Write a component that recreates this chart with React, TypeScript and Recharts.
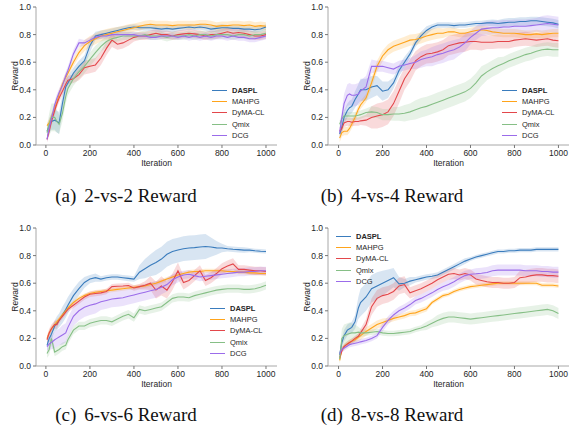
import { ComposedChart, Line, Area, XAxis, YAxis, Legend } from "recharts";

const FONT = "'Liberation Sans', Arial, sans-serif";
const INK = "#262626";
const FRAME = "#a8a8a8";

const iterations = [
  5, 15, 25, 40, 50, 60, 75, 90, 100, 125, 150, 175, 200, 225, 250, 275, 300,
  325, 350, 375, 400, 425, 450, 475, 500, 525, 550, 575, 600, 625, 650, 675,
  700, 725, 750, 775, 800, 825, 850, 875, 900, 925, 950, 975, 1000,
];
const seriesNames = ["DASPL", "MAHPG", "DyMA-CL", "Qmix", "DCG"];
const seriesColors = ["#3a7cbd", "#ffa41b", "#e3474b", "#86bf86", "#9b6cea"];
const xTicks = [0, 200, 400, 600, 800, 1000];
const yTicks = [0, 0.2, 0.4, 0.6, 0.8, 1.0];

// (a) 2-vs-2
const a_daspl = [0.1, 0.14, 0.17, 0.18, 0.17, 0.16, 0.3, 0.42, 0.45, 0.52, 0.57, 0.61, 0.72, 0.79, 0.8, 0.81, 0.82, 0.83, 0.84, 0.85, 0.855, 0.85, 0.85, 0.85, 0.845, 0.84, 0.845, 0.84, 0.845, 0.85, 0.855, 0.85, 0.855, 0.85, 0.84, 0.845, 0.85, 0.85, 0.845, 0.845, 0.84, 0.84, 0.835, 0.84, 0.855];
const a_dasplBand = [0.03, 0.05, 0.06, 0.07, 0.08, 0.08, 0.07, 0.06, 0.05, 0.04, 0.04, 0.04, 0.05, 0.03, 0.03, 0.025, 0.025, 0.025, 0.02, 0.02, 0.02, 0.02, 0.02, 0.025, 0.025, 0.025, 0.025, 0.025, 0.02, 0.02, 0.02, 0.02, 0.02, 0.02, 0.025, 0.025, 0.025, 0.02, 0.02, 0.02, 0.02, 0.02, 0.02, 0.02, 0.02];
const a_mahpg = [0.14, 0.16, 0.2, 0.27, 0.31, 0.37, 0.44, 0.49, 0.52, 0.6, 0.67, 0.72, 0.75, 0.77, 0.79, 0.8, 0.81, 0.82, 0.83, 0.84, 0.85, 0.86, 0.87, 0.875, 0.87, 0.87, 0.87, 0.865, 0.87, 0.87, 0.87, 0.87, 0.875, 0.875, 0.87, 0.86, 0.865, 0.865, 0.87, 0.87, 0.865, 0.87, 0.86, 0.865, 0.86];
const a_mahpgBand = [0.02, 0.03, 0.03, 0.03, 0.03, 0.03, 0.03, 0.03, 0.03, 0.03, 0.035, 0.04, 0.04, 0.04, 0.04, 0.04, 0.04, 0.035, 0.035, 0.035, 0.03, 0.03, 0.03, 0.03, 0.03, 0.03, 0.03, 0.03, 0.03, 0.03, 0.03, 0.03, 0.03, 0.03, 0.03, 0.03, 0.03, 0.03, 0.03, 0.03, 0.03, 0.03, 0.03, 0.03, 0.03];
const a_dyma = [0.04, 0.1, 0.17, 0.25, 0.3, 0.34, 0.39, 0.44, 0.47, 0.48, 0.51, 0.56, 0.57, 0.58, 0.63, 0.7, 0.76, 0.73, 0.74, 0.76, 0.78, 0.79, 0.79, 0.8, 0.81, 0.8, 0.8, 0.79, 0.8, 0.805, 0.81, 0.805, 0.8, 0.79, 0.8, 0.8, 0.81, 0.82, 0.81, 0.815, 0.81, 0.8, 0.79, 0.79, 0.8];
const a_dymaBand = [0.02, 0.03, 0.03, 0.03, 0.03, 0.03, 0.03, 0.03, 0.03, 0.03, 0.04, 0.05, 0.05, 0.05, 0.05, 0.05, 0.05, 0.04, 0.04, 0.04, 0.03, 0.03, 0.03, 0.03, 0.03, 0.03, 0.03, 0.03, 0.03, 0.03, 0.03, 0.03, 0.03, 0.03, 0.03, 0.03, 0.03, 0.03, 0.03, 0.03, 0.03, 0.03, 0.03, 0.03, 0.03];
const a_qmix = [0.09, 0.15, 0.2, 0.2, 0.17, 0.15, 0.23, 0.35, 0.41, 0.48, 0.53, 0.57, 0.62, 0.67, 0.715, 0.75, 0.77, 0.78, 0.79, 0.79, 0.79, 0.79, 0.8, 0.79, 0.79, 0.79, 0.78, 0.79, 0.79, 0.79, 0.8, 0.79, 0.8, 0.8, 0.79, 0.8, 0.8, 0.8, 0.79, 0.8, 0.8, 0.79, 0.8, 0.8, 0.81];
const a_qmixBand = [0.04, 0.08, 0.1, 0.1, 0.08, 0.07, 0.06, 0.05, 0.05, 0.05, 0.05, 0.05, 0.05, 0.05, 0.04, 0.04, 0.03, 0.03, 0.03, 0.03, 0.03, 0.03, 0.03, 0.03, 0.03, 0.03, 0.03, 0.03, 0.03, 0.03, 0.03, 0.03, 0.03, 0.03, 0.03, 0.03, 0.03, 0.03, 0.03, 0.03, 0.03, 0.03, 0.03, 0.03, 0.03];
const a_dcg = [0.04, 0.12, 0.19, 0.29, 0.34, 0.38, 0.43, 0.5, 0.54, 0.66, 0.74, 0.74, 0.76, 0.78, 0.79, 0.79, 0.8, 0.8, 0.8, 0.8, 0.8, 0.79, 0.79, 0.78, 0.78, 0.79, 0.79, 0.79, 0.78, 0.79, 0.78, 0.79, 0.78, 0.79, 0.78, 0.79, 0.79, 0.78, 0.79, 0.78, 0.78, 0.77, 0.77, 0.78, 0.79];
const a_dcgBand = [0.02, 0.03, 0.03, 0.03, 0.03, 0.03, 0.03, 0.03, 0.03, 0.03, 0.03, 0.02, 0.02, 0.02, 0.02, 0.02, 0.02, 0.02, 0.02, 0.02, 0.02, 0.02, 0.02, 0.02, 0.02, 0.02, 0.02, 0.02, 0.02, 0.02, 0.025, 0.025, 0.025, 0.025, 0.025, 0.025, 0.025, 0.025, 0.025, 0.025, 0.025, 0.025, 0.025, 0.025, 0.025];

// (b) 4-vs-4
const b_daspl = [0.08, 0.13, 0.2, 0.25, 0.27, 0.28, 0.33, 0.37, 0.4, 0.4, 0.42, 0.43, 0.39, 0.4, 0.45, 0.54, 0.6, 0.66, 0.74, 0.79, 0.83, 0.855, 0.87, 0.87, 0.87, 0.865, 0.87, 0.87, 0.875, 0.88, 0.88, 0.885, 0.885, 0.88, 0.885, 0.89, 0.89, 0.895, 0.895, 0.9, 0.9, 0.895, 0.89, 0.885, 0.875];
const b_dasplBand = [0.03, 0.04, 0.05, 0.05, 0.05, 0.05, 0.06, 0.07, 0.08, 0.08, 0.08, 0.07, 0.07, 0.06, 0.04, 0.04, 0.04, 0.03, 0.03, 0.03, 0.03, 0.02, 0.02, 0.02, 0.02, 0.02, 0.02, 0.02, 0.02, 0.02, 0.02, 0.02, 0.025, 0.025, 0.03, 0.03, 0.03, 0.03, 0.03, 0.03, 0.03, 0.03, 0.03, 0.03, 0.03];
const b_mahpg = [0.05, 0.09, 0.1, 0.1, 0.12, 0.15, 0.2, 0.26, 0.29, 0.34, 0.45, 0.57, 0.645, 0.69, 0.715, 0.73, 0.745, 0.76, 0.765, 0.775, 0.79, 0.8, 0.81, 0.81, 0.82, 0.82, 0.81, 0.81, 0.82, 0.83, 0.835, 0.83, 0.82, 0.815, 0.81, 0.81, 0.81, 0.805, 0.8, 0.8, 0.805, 0.8, 0.805, 0.81, 0.81];
const b_mahpgBand = [0.03, 0.03, 0.03, 0.03, 0.03, 0.03, 0.03, 0.03, 0.03, 0.03, 0.04, 0.04, 0.04, 0.04, 0.04, 0.04, 0.04, 0.04, 0.04, 0.04, 0.04, 0.04, 0.04, 0.035, 0.03, 0.03, 0.03, 0.03, 0.03, 0.03, 0.03, 0.03, 0.03, 0.03, 0.03, 0.03, 0.03, 0.03, 0.03, 0.03, 0.03, 0.03, 0.03, 0.03, 0.03];
const b_dyma = [0.1, 0.12, 0.16, 0.17, 0.17, 0.165, 0.17, 0.17, 0.175, 0.18, 0.2, 0.21, 0.22, 0.24, 0.3, 0.39, 0.48, 0.54, 0.61, 0.64, 0.66, 0.665, 0.675, 0.69, 0.72, 0.73, 0.74, 0.745, 0.75, 0.75, 0.745, 0.745, 0.745, 0.75, 0.75, 0.75, 0.76, 0.765, 0.77, 0.765, 0.76, 0.765, 0.77, 0.76, 0.755];
const b_dymaBand = [0.03, 0.03, 0.03, 0.03, 0.03, 0.03, 0.03, 0.03, 0.03, 0.04, 0.08, 0.09, 0.09, 0.09, 0.09, 0.09, 0.08, 0.08, 0.07, 0.07, 0.07, 0.07, 0.07, 0.07, 0.07, 0.07, 0.07, 0.07, 0.06, 0.06, 0.06, 0.05, 0.05, 0.05, 0.05, 0.05, 0.05, 0.05, 0.05, 0.05, 0.05, 0.05, 0.05, 0.05, 0.05];
const b_qmix = [0.15, 0.19, 0.21, 0.21, 0.21, 0.21, 0.21, 0.215, 0.22, 0.235, 0.24, 0.235, 0.22, 0.22, 0.225, 0.225, 0.23, 0.24, 0.255, 0.27, 0.28, 0.295, 0.31, 0.325, 0.34, 0.355, 0.37, 0.385, 0.41, 0.45, 0.5, 0.53, 0.555, 0.575, 0.59, 0.61, 0.625, 0.64, 0.655, 0.665, 0.68, 0.69, 0.695, 0.69, 0.69];
const b_qmixBand = [0.03, 0.03, 0.03, 0.03, 0.03, 0.03, 0.03, 0.03, 0.03, 0.03, 0.04, 0.04, 0.04, 0.04, 0.05, 0.05, 0.06, 0.06, 0.07, 0.07, 0.07, 0.07, 0.07, 0.07, 0.07, 0.07, 0.07, 0.07, 0.07, 0.07, 0.07, 0.06, 0.06, 0.06, 0.05, 0.05, 0.05, 0.05, 0.05, 0.05, 0.05, 0.05, 0.05, 0.05, 0.05];
const b_dcg = [0.09, 0.2, 0.3, 0.36, 0.37, 0.36, 0.36, 0.37, 0.39, 0.42, 0.57, 0.57, 0.57, 0.56, 0.55, 0.57, 0.58, 0.59, 0.6, 0.62, 0.63, 0.64, 0.655, 0.665, 0.68, 0.69, 0.71, 0.74, 0.78, 0.81, 0.84, 0.845, 0.85, 0.85, 0.855, 0.855, 0.86, 0.86, 0.86, 0.865, 0.87, 0.875, 0.88, 0.875, 0.87];
const b_dcgBand = [0.03, 0.05, 0.07, 0.08, 0.08, 0.08, 0.08, 0.08, 0.08, 0.08, 0.05, 0.04, 0.04, 0.04, 0.04, 0.04, 0.04, 0.04, 0.05, 0.06, 0.06, 0.07, 0.07, 0.07, 0.07, 0.07, 0.06, 0.06, 0.05, 0.05, 0.05, 0.05, 0.05, 0.05, 0.05, 0.05, 0.05, 0.05, 0.05, 0.05, 0.05, 0.06, 0.06, 0.06, 0.06];

// (c) 6-vs-6
const c_daspl = [0.15, 0.2, 0.23, 0.29, 0.31, 0.33, 0.37, 0.41, 0.44, 0.51, 0.56, 0.605, 0.63, 0.64, 0.63, 0.64, 0.645, 0.645, 0.64, 0.635, 0.63, 0.68, 0.705, 0.73, 0.75, 0.775, 0.81, 0.83, 0.84, 0.85, 0.855, 0.858, 0.862, 0.866, 0.862, 0.856, 0.855, 0.85, 0.846, 0.843, 0.84, 0.84, 0.835, 0.832, 0.83];
const c_dasplBand = [0.03, 0.03, 0.04, 0.04, 0.05, 0.05, 0.06, 0.06, 0.06, 0.05, 0.05, 0.04, 0.03, 0.03, 0.02, 0.02, 0.02, 0.02, 0.02, 0.02, 0.02, 0.05, 0.07, 0.08, 0.09, 0.09, 0.09, 0.09, 0.09, 0.09, 0.09, 0.09, 0.09, 0.09, 0.07, 0.05, 0.03, 0.02, 0.02, 0.02, 0.02, 0.015, 0.015, 0.015, 0.015];
const c_mahpg = [0.2, 0.24, 0.27, 0.3, 0.32, 0.34, 0.37, 0.4, 0.42, 0.46, 0.49, 0.51, 0.525, 0.535, 0.54, 0.545, 0.55, 0.555, 0.56, 0.565, 0.57, 0.575, 0.58, 0.59, 0.6, 0.615, 0.63, 0.645, 0.66, 0.67, 0.68, 0.685, 0.685, 0.69, 0.69, 0.69, 0.69, 0.685, 0.685, 0.68, 0.68, 0.675, 0.675, 0.67, 0.67];
const c_mahpgBand = [0.02, 0.02, 0.02, 0.02, 0.02, 0.015, 0.015, 0.015, 0.015, 0.015, 0.015, 0.015, 0.015, 0.015, 0.015, 0.015, 0.015, 0.015, 0.015, 0.015, 0.015, 0.015, 0.015, 0.015, 0.015, 0.015, 0.015, 0.015, 0.015, 0.015, 0.015, 0.015, 0.015, 0.015, 0.015, 0.015, 0.015, 0.015, 0.015, 0.015, 0.015, 0.015, 0.015, 0.015, 0.015];
const c_dyma = [0.19, 0.24, 0.27, 0.3, 0.3, 0.33, 0.36, 0.39, 0.41, 0.44, 0.47, 0.5, 0.52, 0.525, 0.53, 0.54, 0.575, 0.578, 0.58, 0.583, 0.565, 0.575, 0.585, 0.6, 0.55, 0.58, 0.55, 0.61, 0.69, 0.605, 0.62, 0.655, 0.69, 0.62, 0.64, 0.67, 0.705, 0.725, 0.74, 0.7, 0.7, 0.695, 0.69, 0.69, 0.685];
const c_dymaBand = [0.03, 0.03, 0.03, 0.03, 0.03, 0.02, 0.02, 0.02, 0.02, 0.02, 0.02, 0.02, 0.02, 0.02, 0.02, 0.02, 0.02, 0.02, 0.02, 0.02, 0.02, 0.02, 0.03, 0.05, 0.06, 0.07, 0.06, 0.06, 0.06, 0.05, 0.04, 0.04, 0.04, 0.04, 0.04, 0.04, 0.04, 0.04, 0.04, 0.03, 0.03, 0.03, 0.03, 0.03, 0.03];
const c_qmix = [0.09, 0.12, 0.2, 0.1, 0.11, 0.12, 0.14, 0.15, 0.19, 0.26, 0.29, 0.29, 0.31, 0.32, 0.33, 0.33, 0.32, 0.34, 0.36, 0.375, 0.35, 0.41, 0.4, 0.41, 0.42, 0.43, 0.46, 0.49, 0.5, 0.5, 0.495, 0.51, 0.52, 0.53, 0.54, 0.55, 0.555, 0.56, 0.56, 0.56, 0.555, 0.555, 0.56, 0.57, 0.585];
const c_qmixBand = [0.03, 0.04, 0.05, 0.03, 0.03, 0.03, 0.03, 0.03, 0.03, 0.03, 0.03, 0.03, 0.03, 0.03, 0.03, 0.03, 0.03, 0.03, 0.03, 0.03, 0.03, 0.03, 0.03, 0.03, 0.03, 0.03, 0.03, 0.03, 0.03, 0.03, 0.03, 0.03, 0.03, 0.03, 0.03, 0.03, 0.03, 0.03, 0.03, 0.03, 0.03, 0.03, 0.03, 0.03, 0.03];
const c_dcg = [0.14, 0.16, 0.17, 0.19, 0.2, 0.21, 0.225, 0.24, 0.28, 0.36, 0.4, 0.425, 0.44, 0.45, 0.465, 0.475, 0.485, 0.49, 0.495, 0.505, 0.515, 0.525, 0.535, 0.545, 0.555, 0.57, 0.59, 0.625, 0.645, 0.66, 0.665, 0.655, 0.645, 0.65, 0.655, 0.66, 0.665, 0.67, 0.675, 0.68, 0.68, 0.685, 0.685, 0.69, 0.69];
const c_dcgBand = [0.03, 0.04, 0.05, 0.06, 0.06, 0.06, 0.07, 0.07, 0.07, 0.07, 0.07, 0.07, 0.07, 0.07, 0.06, 0.06, 0.06, 0.06, 0.06, 0.06, 0.06, 0.06, 0.06, 0.06, 0.06, 0.05, 0.05, 0.04, 0.04, 0.03, 0.03, 0.03, 0.03, 0.03, 0.03, 0.03, 0.03, 0.03, 0.03, 0.03, 0.03, 0.03, 0.03, 0.03, 0.03];

// (d) 8-vs-8
const d_daspl = [0.08, 0.17, 0.22, 0.26, 0.27, 0.28, 0.32, 0.42, 0.46, 0.5, 0.56, 0.58, 0.6, 0.62, 0.64, 0.595, 0.6, 0.615, 0.625, 0.635, 0.645, 0.65, 0.66, 0.68, 0.7, 0.72, 0.74, 0.76, 0.775, 0.79, 0.8, 0.81, 0.82, 0.83, 0.83, 0.835, 0.835, 0.84, 0.84, 0.84, 0.845, 0.845, 0.845, 0.845, 0.845];
const d_dasplBand = [0.02, 0.03, 0.04, 0.04, 0.04, 0.04, 0.05, 0.08, 0.1, 0.1, 0.1, 0.1, 0.09, 0.08, 0.07, 0.05, 0.03, 0.03, 0.02, 0.02, 0.02, 0.02, 0.02, 0.02, 0.02, 0.02, 0.02, 0.02, 0.015, 0.015, 0.015, 0.015, 0.015, 0.015, 0.015, 0.015, 0.015, 0.015, 0.015, 0.015, 0.015, 0.015, 0.015, 0.015, 0.015];
const d_mahpg = [0.04, 0.12, 0.14, 0.16, 0.17, 0.18, 0.19, 0.21, 0.22, 0.25, 0.275, 0.3, 0.315, 0.33, 0.345, 0.355, 0.365, 0.38, 0.385, 0.4, 0.415, 0.46, 0.485, 0.51, 0.52, 0.54, 0.555, 0.565, 0.575, 0.58, 0.585, 0.59, 0.595, 0.6, 0.6, 0.6, 0.6, 0.6, 0.6, 0.6, 0.6, 0.585, 0.585, 0.585, 0.58];
const d_mahpgBand = [0.02, 0.02, 0.02, 0.02, 0.02, 0.02, 0.02, 0.03, 0.03, 0.03, 0.03, 0.03, 0.03, 0.02, 0.02, 0.02, 0.02, 0.02, 0.02, 0.02, 0.02, 0.015, 0.015, 0.015, 0.015, 0.015, 0.015, 0.015, 0.015, 0.015, 0.015, 0.015, 0.015, 0.015, 0.015, 0.015, 0.015, 0.015, 0.015, 0.015, 0.015, 0.015, 0.015, 0.015, 0.015];
const d_dyma = [0.06, 0.11, 0.14, 0.16, 0.17, 0.18, 0.2, 0.215, 0.24, 0.3, 0.43, 0.49, 0.51, 0.52, 0.54, 0.58, 0.59, 0.53, 0.545, 0.56, 0.58, 0.6, 0.625, 0.645, 0.665, 0.67, 0.66, 0.67, 0.66, 0.63, 0.62, 0.61, 0.605, 0.605, 0.6, 0.6, 0.605, 0.64, 0.645, 0.655, 0.66, 0.66, 0.655, 0.655, 0.65];
const d_dymaBand = [0.02, 0.02, 0.02, 0.02, 0.02, 0.02, 0.02, 0.02, 0.03, 0.04, 0.06, 0.06, 0.06, 0.06, 0.06, 0.06, 0.06, 0.04, 0.04, 0.04, 0.04, 0.04, 0.04, 0.04, 0.04, 0.04, 0.04, 0.04, 0.04, 0.04, 0.04, 0.04, 0.04, 0.04, 0.04, 0.04, 0.04, 0.05, 0.05, 0.05, 0.05, 0.05, 0.05, 0.05, 0.05];
const d_qmix = [0.05, 0.2, 0.22, 0.23, 0.235, 0.24, 0.24, 0.245, 0.24, 0.24, 0.245, 0.25, 0.24, 0.235, 0.235, 0.24, 0.245, 0.25, 0.265, 0.275, 0.29, 0.31, 0.33, 0.345, 0.355, 0.355, 0.35, 0.345, 0.34, 0.345, 0.35, 0.355, 0.36, 0.365, 0.37, 0.375, 0.38, 0.385, 0.39, 0.395, 0.4, 0.405, 0.41, 0.4, 0.38];
const d_qmixBand = [0.04, 0.07, 0.08, 0.08, 0.08, 0.07, 0.06, 0.04, 0.03, 0.02, 0.02, 0.02, 0.02, 0.02, 0.02, 0.02, 0.02, 0.02, 0.02, 0.02, 0.03, 0.03, 0.04, 0.04, 0.04, 0.04, 0.04, 0.04, 0.04, 0.04, 0.04, 0.04, 0.04, 0.04, 0.04, 0.04, 0.04, 0.04, 0.04, 0.04, 0.04, 0.04, 0.04, 0.04, 0.04];
const d_dcg = [0.09, 0.12, 0.13, 0.145, 0.155, 0.16, 0.165, 0.17, 0.175, 0.185, 0.2, 0.22, 0.28, 0.33, 0.37, 0.4, 0.42, 0.445, 0.475, 0.49, 0.51, 0.53, 0.555, 0.575, 0.59, 0.61, 0.635, 0.655, 0.665, 0.668, 0.672, 0.678, 0.69, 0.695, 0.695, 0.695, 0.695, 0.695, 0.69, 0.69, 0.69, 0.685, 0.685, 0.68, 0.68];
const d_dcgBand = [0.02, 0.02, 0.02, 0.02, 0.02, 0.02, 0.02, 0.02, 0.02, 0.02, 0.02, 0.02, 0.03, 0.03, 0.03, 0.03, 0.03, 0.03, 0.03, 0.03, 0.03, 0.03, 0.03, 0.03, 0.035, 0.035, 0.035, 0.035, 0.035, 0.04, 0.04, 0.04, 0.04, 0.04, 0.04, 0.04, 0.04, 0.04, 0.04, 0.04, 0.04, 0.04, 0.04, 0.04, 0.04];

const panels = [
  {
    tag: "(a)", title: "2-vs-2 Reward",
    means: [a_daspl, a_mahpg, a_dyma, a_qmix, a_dcg],
    bands: [a_dasplBand, a_mahpgBand, a_dymaBand, a_qmixBand, a_dcgBand],
    left: 0, top: 0, width: 290, yw: 36, xDomain: [-45, 1050],
    legendLeft: 212, legendTop: 85, capX: 126, capY: 196,
  },
  {
    tag: "(b)", title: "4-vs-4 Reward",
    means: [b_daspl, b_mahpg, b_dyma, b_qmix, b_dcg],
    bands: [b_dasplBand, b_mahpgBand, b_dymaBand, b_qmixBand, b_dcgBand],
    left: 290, top: 0, width: 285, yw: 38, xDomain: [-48, 1048],
    legendLeft: 212, legendTop: 85, capX: 392, capY: 196,
  },
  {
    tag: "(c)", title: "6-vs-6 Reward",
    means: [c_daspl, c_mahpg, c_dyma, c_qmix, c_dcg],
    bands: [c_dasplBand, c_mahpgBand, c_dymaBand, c_qmixBand, c_dcgBand],
    left: 0, top: 221, width: 290, yw: 36, xDomain: [-45, 1050],
    legendLeft: 210, legendTop: 82, capX: 126, capY: 415,
  },
  {
    tag: "(d)", title: "8-vs-8 Reward",
    means: [d_daspl, d_mahpg, d_dyma, d_qmix, d_dcg],
    bands: [d_dasplBand, d_mahpgBand, d_dymaBand, d_qmixBand, d_dcgBand],
    left: 290, top: 221, width: 285, yw: 38, xDomain: [-48, 1048],
    legendLeft: 46, legendTop: 10, capX: 392, capY: 415,
  },
];

function buildRows(means: number[][], bands: number[][]) {
  return iterations.map((it, i) => {
    const row: any = { it };
    means.forEach((m, k) => {
      row["m" + k] = m[i];
      row["b" + k] = [m[i] - bands[k][i], m[i] + bands[k][i]];
    });
    return row;
  });
}

function XLabel(props: any) {
  const vb = props.viewBox || {};
  return (
    <text x={vb.x + vb.width / 2} y={vb.y + 17.5} textAnchor="middle" dominantBaseline="central"
      fontFamily={FONT} fontSize={8.5} fill={INK}>
      Iteration
    </text>
  );
}

function YLabel(props: any) {
  const vb = props.viewBox || {};
  const cx = vb.x + vb.width - 21;
  const cy = vb.y + vb.height / 2;
  return (
    <text x={cx} y={cy} transform={`rotate(-90 ${cx} ${cy})`} textAnchor="middle"
      dominantBaseline="central" fontFamily={FONT} fontSize={8.5} fill={INK}>
      Reward
    </text>
  );
}

function LegendBox() {
  return (
    <div style={{ fontFamily: FONT, fontSize: 7.5, color: INK }}>
      {seriesNames.map((n, k) => (
        <div key={n} style={{ display: "flex", alignItems: "center", height: 11.2, whiteSpace: "nowrap" }}>
          <span style={{ display: "inline-block", width: 15, borderTop: `1.3px solid ${seriesColors[k]}`, marginRight: 5 }} />
          <span style={{ fontWeight: k === 0 ? "bold" : "normal" }}>{n}</span>
        </div>
      ))}
    </div>
  );
}

function Panel({ p }: { p: (typeof panels)[number] }) {
  const rows = buildRows(p.means, p.bands);
  const tickStyle = { fontSize: 8.5, fill: INK, fontFamily: FONT };
  return (
    <div style={{ position: "absolute", left: p.left, top: p.top }}>
      <ComposedChart width={p.width} height={172} data={rows}
        margin={{ top: 7, right: p.width - p.yw - 241, bottom: 0, left: 0 }}>
        <XAxis dataKey="it" type="number" domain={p.xDomain} ticks={xTicks} allowDataOverflow
          tick={tickStyle} tickSize={3} tickMargin={2} height={27}
          axisLine={{ stroke: FRAME }} tickLine={{ stroke: "#777" }} label={<XLabel />} />
        <XAxis xAxisId="top" orientation="top" dataKey="it" type="number" domain={p.xDomain}
          allowDataOverflow tick={false} tickLine={false} height={0} axisLine={{ stroke: FRAME }} />
        <YAxis type="number" domain={[0, 1]} ticks={yTicks} allowDataOverflow width={p.yw}
          tick={tickStyle} tickSize={3} tickMargin={2} tickFormatter={(v: number) => v.toFixed(1)}
          axisLine={{ stroke: FRAME }} tickLine={{ stroke: "#777" }} label={<YLabel />} />
        <YAxis yAxisId="right" orientation="right" type="number" domain={[0, 1]} width={0}
          tick={false} tickLine={false} axisLine={{ stroke: FRAME }} />
        {seriesNames.map((n, k) => [
          <Area key={"band" + k} type="linear" dataKey={"b" + k} stroke="none" fill={seriesColors[k]}
            fillOpacity={0.2} isAnimationActive={false} activeDot={false} legendType="none" />,
          <Line key={"line" + k} type="linear" dataKey={"m" + k} name={n} stroke={seriesColors[k]}
            strokeWidth={1.1} dot={false} activeDot={false} isAnimationActive={false} />,
        ])}
        <Legend layout="horizontal" align="center" verticalAlign="middle" content={<LegendBox />}
          wrapperStyle={{ left: p.legendLeft, top: p.legendTop, width: "auto", height: "auto" }} />
      </ComposedChart>
    </div>
  );
}

export default function App() {
  return (
    <div style={{ position: "absolute", left: 0, top: 0, width: 575, height: 428, background: "#fff" }}>
      {panels.map((p) => (
        <Panel key={p.tag} p={p} />
      ))}
      {panels.map((p) => (
        <div key={"cap" + p.tag} style={{
          position: "absolute", left: p.capX - 110, top: p.capY - 11, width: 220, height: 22,
          lineHeight: "22px", textAlign: "center", fontFamily: "'Liberation Serif', 'Times New Roman', serif",
          fontSize: 19, color: "#111", whiteSpace: "nowrap",
        }}>
          <span>{p.tag}</span>
          <span style={{ marginLeft: 8 }}>{p.title}</span>
        </div>
      ))}
    </div>
  );
}
